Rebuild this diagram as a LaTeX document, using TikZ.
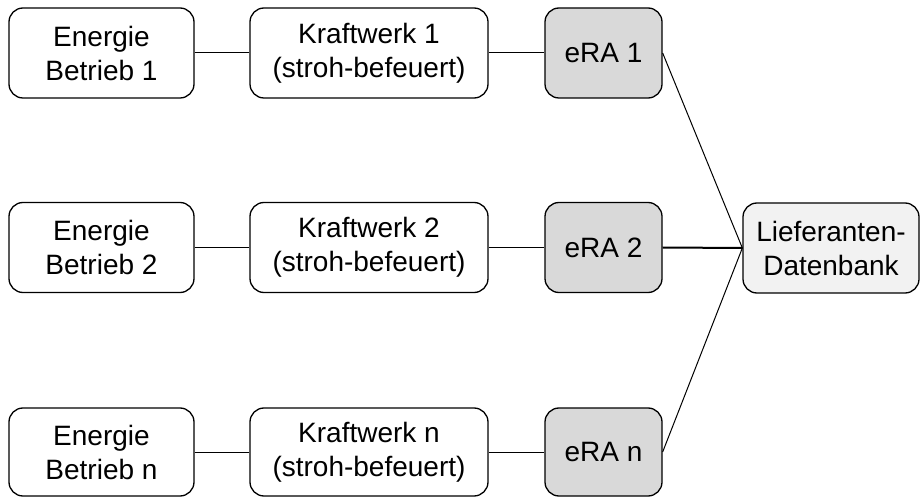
\documentclass[tikz,border=0pt]{standalone}
\usepackage{fontspec}
\setmainfont{Liberation Sans}
\begin{document}
\begin{tikzpicture}[x=1pt,y=-1pt,
  box/.style={draw=black, line width=1.3pt, rounded corners=14pt, align=center,
    font=\fontsize{28}{34}\selectfont, inner sep=0pt, minimum height=90pt},
  ebox/.style={box, minimum width=185pt, fill=white},
  kbox/.style={box, minimum width=238pt, fill=white},
  rbox/.style={box, minimum width=117pt, fill=black!15},
  lbox/.style={box, minimum width=176pt, fill=black!5},
  conn/.style={draw=black, line width=1pt},
  thick conn/.style={draw=black, line width=2pt}]
\useasboundingbox (0,0) rectangle (922,497);
% row 1
\node[ebox] (e1) at (101.5,53) {Energie\\Betrieb 1};
\node[kbox] (k1) at (369,53) {Kraftwerk 1\\(stroh-befeuert)};
\node[rbox] (r1) at (603.5,53) {eRA 1};
% row 2
\node[ebox] (e2) at (101.5,247.5) {Energie\\Betrieb 2};
\node[kbox] (k2) at (369,247.5) {Kraftwerk 2\\(stroh-befeuert)};
\node[rbox] (r2) at (603.5,247.5) {eRA 2};
% row 3
\node[ebox, minimum height=88pt] (e3) at (101.5,452) {Energie\\Betrieb n};
\node[kbox, minimum height=88pt] (k3) at (369,452) {Kraftwerk n\\(stroh-befeuert)};
\node[rbox, minimum height=88pt] (r3) at (603.5,452) {eRA n};
% database
\node[lbox] (db) at (831,248) {Lieferanten-\\Datenbank};
% connectors
\draw[conn] (e1) -- (k1);
\draw[conn] (k1) -- (r1);
\draw[conn] (e2) -- (k2);
\draw[conn] (k2) -- (r2);
\draw[conn] (e3) -- (k3);
\draw[conn] (k3) -- (r3);
\draw[conn] (r1.east) -- (db.west);
\draw[thick conn] (r2.east) -- (db.west);
\draw[conn] (r3.east) -- (db.west);
\end{tikzpicture}
\end{document}
